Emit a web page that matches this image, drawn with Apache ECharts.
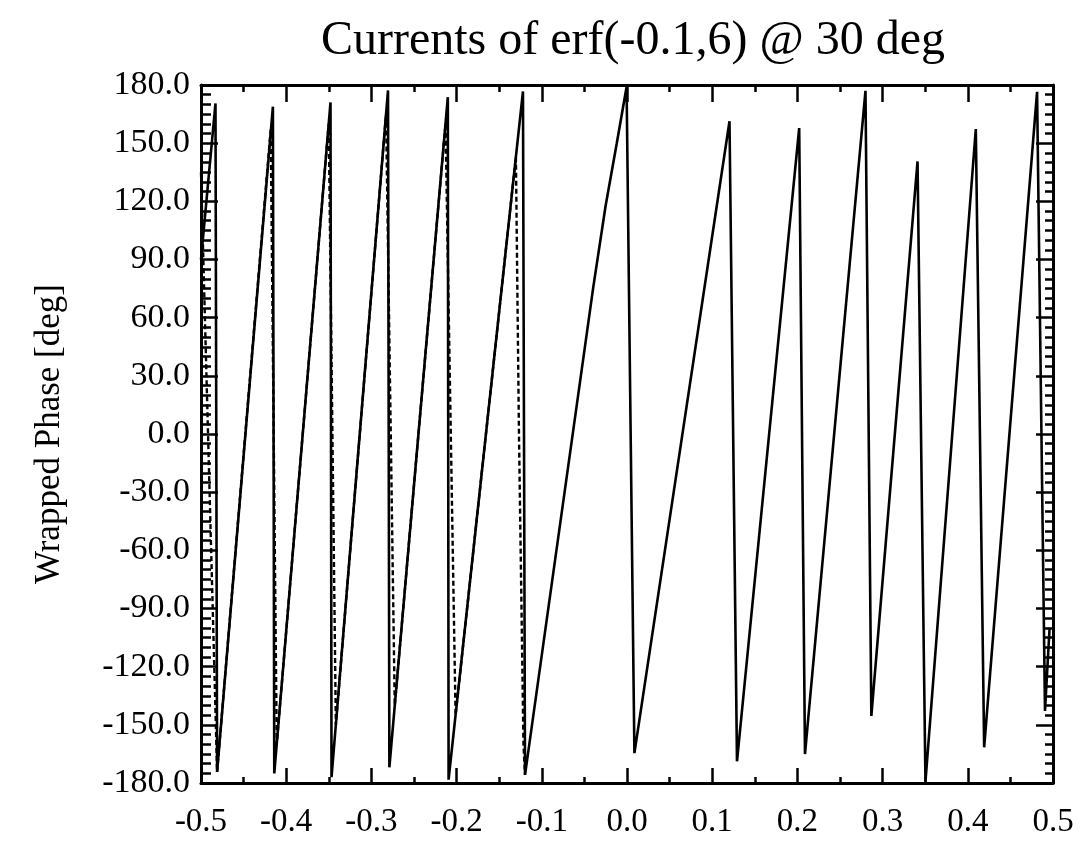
<!DOCTYPE html>
<html>
<head>
<meta charset="utf-8">
<script src="https://cdn.jsdelivr.net/npm/echarts@6/dist/echarts.min.js"></script>
<style>html,body{margin:0;padding:0;background:#fff;}#chart{width:1091px;height:841px;}</style>
</head>
<body>
<div id="chart"></div>
<script>
// Solid series (wrapped phase) vertices
const solidX = [-0.5, -0.483, -0.4811, -0.4156, -0.414, -0.348, -0.3468, -0.2805, -0.2789, -0.2103, -0.2094, -0.1221, -0.1197,
  -0.0395, -0.025, -0.012, -0.0005, 0.0087, 0.1203, 0.1291, 0.2021, 0.2089, 0.2799, 0.2868, 0.3410, 0.3503, 0.4094, 0.4192, 0.4813, 0.4906, 0.496];
const solidY = [90, 170.5, -174.3, 168.8, -175.1, 171, -177, 177.2, -171.9, 173.7, -178.3, 176.7, -175.8,
  76, 118, 150, 179, -164.6, 161.3, -168.8, 157.8, -165.1, 177, -145.4, 140.6, -179.3, 157.3, -161.6, 176.5, -142.8, -100];
// Dashed series vertices (left half; coincides with solid elsewhere)
const dashX = [-0.5, -0.4811, -0.4182, -0.4111, -0.3501, -0.3417, -0.2828, -0.2726, -0.2130, -0.2012, -0.1304, -0.1268, -0.1215, -0.1197];
const dashY = [135, -174.3, 157, -160, 160, -150, 165, -140, 160, -145, 143, 0, -160, -175.8];
// Axis settings
const xTicks = [-0.5, -0.4, -0.3, -0.2, -0.1, 0.0, 0.1, 0.2, 0.3, 0.4, 0.5];
const yTicks = [-180, -150, -120, -90, -60, -30, 0, 30, 60, 90, 120, 150, 180];
const titleText = 'Currents of erf(-0.1,6) @ 30 deg';
const yName = 'Wrapped Phase [deg]';

const FONT = "'Liberation Serif', 'DejaVu Serif', serif";
const zip = (xs, ys) => xs.map((x, i) => [x, ys[i]]);
const fmt = v => (Math.abs(v) < 1e-9 ? 0 : v).toFixed(1);

const chart = echarts.init(document.getElementById('chart'), null, {renderer: 'canvas'});
const axisLine = {show: true, onZero: false, lineStyle: {color: '#000', width: 3}};
const xBase = {
  type: 'value', min: xTicks[0], max: xTicks[xTicks.length - 1], interval: 0.1,
  splitLine: {show: false}, axisLine: axisLine
};
const yBase = {
  type: 'value', min: yTicks[0], max: yTicks[yTicks.length - 1], interval: 30,
  splitLine: {show: false}, axisLine: axisLine
};
chart.setOption({
  animation: false,
  backgroundColor: '#fff',
  title: {
    text: titleText, left: 628, top: 12, textAlign: 'center',
    textStyle: {fontFamily: FONT, fontSize: 48, fontWeight: 'normal', color: '#000'}
  },
  grid: {left: 201, right: 38, top: 85, bottom: 58, containLabel: false},
  xAxis: [
    Object.assign({}, xBase, {
      position: 'bottom',
      axisTick: {show: true, inside: true, length: 15, lineStyle: {color: '#000', width: 2.5}},
      minorTick: {show: true, splitNumber: 2, length: 6, lineStyle: {color: '#000', width: 2.5}},
      axisLabel: {show: true, formatter: fmt, fontFamily: FONT, fontSize: 33, color: '#000', margin: 23}
    }),
    Object.assign({}, xBase, {
      position: 'top',
      axisTick: {show: true, inside: true, length: 17, lineStyle: {color: '#000', width: 2.5}},
      minorTick: {show: true, splitNumber: 2, length: 7, lineStyle: {color: '#000', width: 2.5}},
      axisLabel: {show: false}
    })
  ],
  yAxis: [
    Object.assign({}, yBase, {
      position: 'left',
      name: yName, nameLocation: 'middle', nameGap: 134, nameRotate: 90,
      nameTextStyle: {fontFamily: FONT, fontSize: 35, color: '#000'},
      axisTick: {show: true, inside: true, length: 17, lineStyle: {color: '#000', width: 2.5}},
      minorTick: {show: true, splitNumber: 6, length: 10, lineStyle: {color: '#000', width: 2.5}},
      axisLabel: {show: true, formatter: fmt, fontFamily: FONT, fontSize: 34, color: '#000', margin: 11}
    }),
    Object.assign({}, yBase, {
      position: 'right',
      axisTick: {show: true, inside: true, length: 17, lineStyle: {color: '#000', width: 2.5}},
      minorTick: {show: true, splitNumber: 6, length: 8, lineStyle: {color: '#000', width: 2.5}},
      axisLabel: {show: false}
    })
  ],
  series: [
    {
      type: 'line', name: 'dashed', data: zip(dashX, dashY), showSymbol: false, symbol: 'none',
      xAxisIndex: 0, yAxisIndex: 0, z: 2,
      lineStyle: {color: '#000', width: 2.4, type: [5, 3]}
    },
    {
      type: 'line', name: 'solid', data: zip(solidX, solidY), showSymbol: false, symbol: 'none',
      xAxisIndex: 0, yAxisIndex: 0, z: 3,
      lineStyle: {color: '#000', width: 2.6}
    }
  ]
});
</script>
</body>
</html>
